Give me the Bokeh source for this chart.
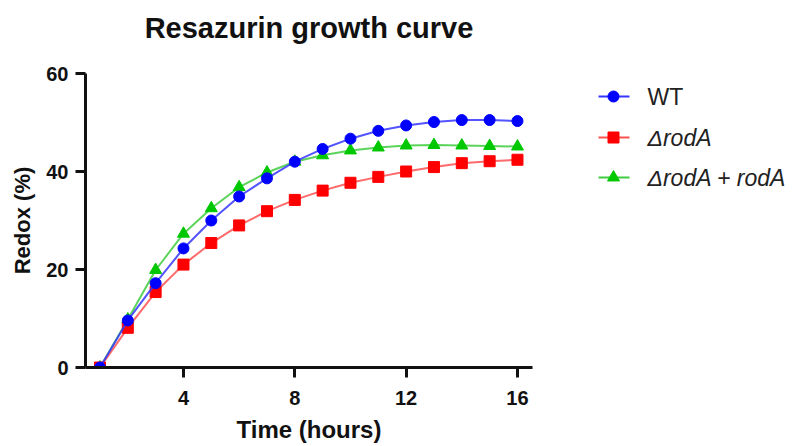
import math
from bokeh.plotting import figure
from bokeh.layouts import row
from bokeh.models import Range1d, FixedTicker, ColumnDataSource, Label
from bokeh.core.properties import value
from bokeh.embed import file_html
from bokeh.resources import INLINE

# ---- data ----
hours = [1, 2, 3, 4, 5, 6, 7, 8, 9, 10, 11, 12, 13, 14, 15, 16]
wt = [0.0, 9.6, 17.2, 24.3, 30.0, 34.9, 38.6, 42.0, 44.6, 46.7, 48.3, 49.4, 50.1, 50.5, 50.5, 50.3]
rodA = [0.0, 8.1, 15.4, 21.0, 25.4, 29.0, 31.9, 34.2, 36.1, 37.7, 38.9, 40.0, 40.9, 41.7, 42.1, 42.4]
rodA_comp = [0.0, 9.8, 19.9, 27.3, 32.5, 36.8, 39.8, 42.0, 43.3, 44.3, 44.9, 45.3, 45.4, 45.3, 45.2, 45.1]
series_labels = ["WT", "\u0394rodA", "\u0394rodA + rodA"]
label_styles = ["normal", "italic", "italic"]
x_ticks = [4, 8, 12, 16]
y_ticks = [0, 20, 40, 60]
title_text = "Resazurin growth curve"
x_label = "Time (hours)"
y_label = "Redox (%)"

FONT = "Liberation Sans"
marker_colors = ["#0000ff", "#ff0000", "#00c800"]
line_colors = ["#3535ff", "#ff5050", "#40cc40"]
markers = ["circle", "square", "triangle"]
sizes = [11, 11, 12]

H = 446
W_YL = 40                      # narrow panel holding the y-axis title
W_MAIN = 520                   # main plot spans page x 40..560
FL, FR, FB = 85, 532, 367      # frame left/right/bottom in page pixels
Y60_PX = 73                    # page pixel of the y=60 tick
FT = 5                         # frame top (room for the title inside the frame)
X0, X1 = 0.48, 16.54
Y0, YMAX = 0, 60
px_per_y = (FB - Y60_PX) / (YMAX - Y0)
Y1 = YMAX + (Y60_PX - FT) / px_per_y

# ---- y-axis title panel ----
yl = figure(width=W_YL, height=H, x_range=Range1d(0, W_YL), y_range=Range1d(FB, FT),
            output_backend="svg", toolbar_location=None, min_border=0,
            x_axis_type=None, y_axis_type=None)
yl.grid.visible = False
yl.outline_line_color = None
yl.text(x=[22], y=[(FB + Y60_PX) / 2], text=[y_label], angle=math.pi / 2,
        text_font=value(FONT), text_font_size="22px", text_font_style="bold",
        text_align="center", text_baseline="middle", text_color="#111111")

# ---- main plot ----
p = figure(width=W_MAIN, height=H, x_range=Range1d(X0, X1), y_range=Range1d(Y0, Y1),
           output_backend="svg", toolbar_location=None,
           min_border_left=FL - W_YL, min_border_right=W_YL + W_MAIN - FR, min_border_top=FT,
           min_border_bottom=H - FB)

p.grid.visible = False
p.outline_line_color = None
p.background_fill_color = "white"
p.border_fill_color = "white"

p.xaxis.ticker = FixedTicker(ticks=x_ticks)
p.yaxis.ticker = FixedTicker(ticks=y_ticks)
p.yaxis.bounds = (Y0, YMAX)
p.xaxis.axis_label = x_label
for ax in (p.xaxis, p.yaxis):
    ax.axis_line_width = 3
    ax.axis_line_color = "#111111"
    ax.major_tick_line_width = 3
    ax.major_tick_line_color = "#111111"
    ax.major_tick_out = 10
    ax.major_tick_in = 0
    ax.minor_tick_line_color = None
    ax.major_label_text_font = FONT
    ax.major_label_text_font_size = "20px"
    ax.major_label_text_font_style = "bold"
    ax.major_label_text_color = "#111111"
    ax.axis_label_text_font = FONT
    ax.axis_label_text_font_style = "bold"
    ax.axis_label_text_color = "#111111"
p.xaxis.axis_label_text_font_size = "24px"
p.xaxis.major_label_standoff = 13
p.xaxis.axis_label_standoff = 8
p.yaxis.major_label_standoff = 7

# chart title, placed inside the (taller) frame above the y-axis bound
p.add_layout(Label(x=(X0 + X1) / 2, y=YMAX + 46 / px_per_y, text=title_text,
                   text_align="center", text_baseline="alphabetic", text_font=FONT,
                   text_font_size="29px", text_font_style="bold", text_color="#111111"))

series = [wt, rodA, rodA_comp]
# draw order: green, red, blue (blue on top)
for i in [2, 1, 0]:
    src = ColumnDataSource(dict(x=hours, y=series[i]))
    p.line("x", "y", source=src, line_color=line_colors[i], line_width=2, line_alpha=0.85)
    p.scatter("x", "y", source=src, marker=markers[i], size=sizes[i],
              fill_color=marker_colors[i], line_color=marker_colors[i])

# ---- legend panel (its frame aligns vertically with the main frame) ----
W_LG = 235
LG_X = W_YL + W_MAIN
lg = figure(width=W_LG, height=H, x_range=Range1d(LG_X, LG_X + W_LG), y_range=Range1d(FB, FT),
            output_backend="svg", toolbar_location=None, min_border=0,
            x_axis_type=None, y_axis_type=None)
lg.grid.visible = False
lg.outline_line_color = None

row_y = [96, 137, 177]
mx = 613
for k in range(len(series_labels)):
    lg.segment(x0=[mx - 15], y0=[row_y[k]], x1=[mx + 16], y1=[row_y[k]], line_color=line_colors[k], line_width=2)
    lg.scatter(x=[mx], y=[row_y[k]], marker=markers[k], size=sizes[k],
               fill_color=marker_colors[k], line_color=marker_colors[k])
lsrc = ColumnDataSource(dict(x=[647] * len(series_labels), y=row_y, t=series_labels, s=label_styles))
lg.text("x", "y", text="t", source=lsrc, text_font=value(FONT), text_font_size="23px",
        text_font_style="s", text_baseline="middle", text_color="#222222")

layout = row(yl, p, lg)
open("out.html", "w").write(file_html(layout, INLINE))
